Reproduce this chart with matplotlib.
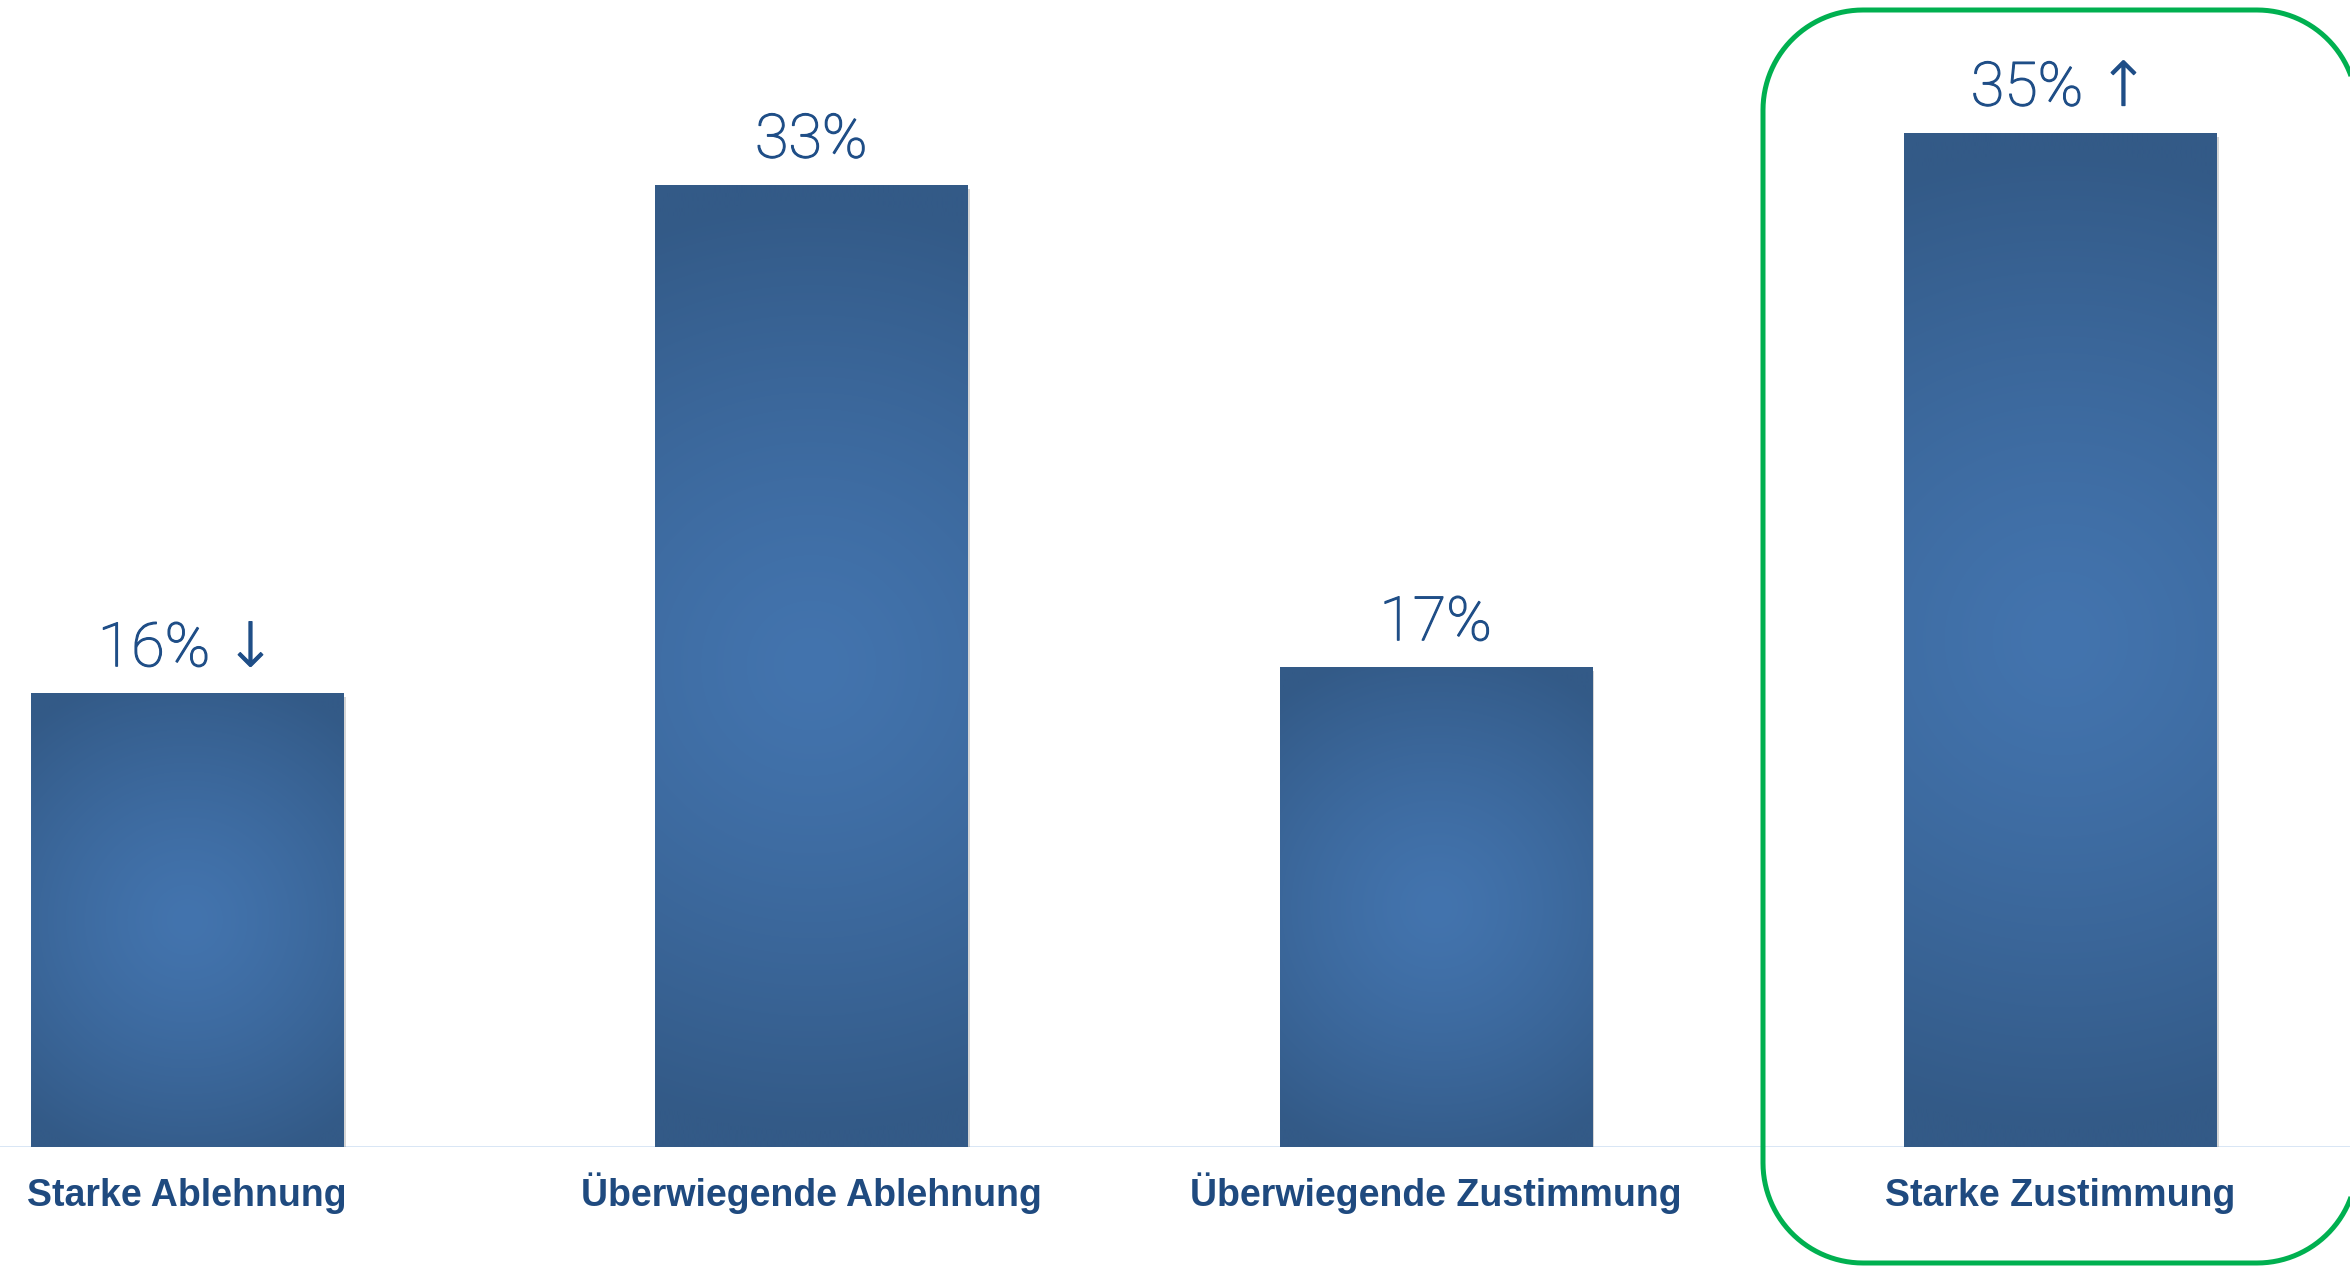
import numpy as np
import matplotlib
matplotlib.use("Agg")
import matplotlib.pyplot as plt
from matplotlib.patches import Polygon
from matplotlib import patheffects as pe
from matplotlib.colors import to_rgb

# data
categories = ["Starke Ablehnung", "Überwiegende Ablehnung",
              "Überwiegende Zustimmung", "Starke Zustimmung"]
values = [15.7, 33.3, 16.6, 35.1]
trend = ["↓", "", "", "↑"]

label_color = "#1f4e87"
cat_color = "#1f4a7f"
c_center = np.array(to_rgb("#4374ae"))
c_edge = np.array(to_rgb("#335a87"))

fig = plt.figure(figsize=(23.5, 12.66), dpi=100)
ax = fig.add_axes([0, 119 / 1266, 1, 1028 / 1266])
ax.set_xlim(-0.2995, 3.4647)
ax.set_ylim(0, 1028 / 28.9)
ax.axis("off")

x = np.arange(len(categories))
bars = ax.bar(x, values, width=0.5, color="#345b88", zorder=2)
for b in bars:
    b.set_path_effects([pe.SimplePatchShadow(offset=(2, -3), shadow_rgbFace="#888888", alpha=0.35),
                        pe.Normal()])

# circular gradient inside each bar (radius = half diagonal, in pixels)
fig.canvas.draw()
for b in bars:
    x0, w, h = b.get_x(), b.get_width(), b.get_height()
    (px0, py0), (px1, py1) = ax.transData.transform([(x0, 0), (x0 + w, h)])
    wp, hp = abs(px1 - px0), abs(py1 - py0)
    ny, nx = int(hp), int(wp)
    gy, gx = np.mgrid[-hp / 2:hp / 2:ny * 1j, -wp / 2:wp / 2:nx * 1j]
    r = np.sqrt(gx ** 2 + gy ** 2) / np.hypot(wp / 2, hp / 2)
    t = np.clip(r / 0.92, 0, 1) ** 1.3
    img = c_center[None, None, :] * (1 - t[..., None]) + c_edge[None, None, :] * t[..., None]
    im = ax.imshow(img, extent=(x0, x0 + w, 0, h), aspect="auto", zorder=3,
                   interpolation="bilinear")
    im.set_clip_path(b)

ax.axhline(0, color="#cddff3", lw=1.8, zorder=1)

for xi, v, tr in zip(x, values, trend):
    s = f"{round(v):.0f}%" + (f" {tr}" if tr else "")
    ax.annotate(s, (xi, v), xytext=(0, 19.5), textcoords="offset points",
                ha="center", va="baseline", fontsize=44, color=label_color,
                family=["Roboto", "DejaVu Sans"], fontweight="light",
                path_effects=[pe.withStroke(linewidth=0.9, foreground=label_color)])

for xi, c in zip(x, categories):
    ax.annotate(c, (xi, 0), xytext=(0, -42.5), textcoords="offset points",
                ha="center", va="baseline", fontsize=27, color=cat_color,
                family=["Liberation Sans", "DejaVu Sans"], fontweight="bold")

# green highlight frame around the last bar (inches)
bx0, bx1, by0, by1, rad = 17.63, 23.57, 0.03, 12.56, 1.0
ang = np.linspace(0, np.pi / 2, 30)
pts = []
for cx, cy, a0 in [(bx1 - rad, by1 - rad, 0), (bx0 + rad, by1 - rad, np.pi / 2),
                   (bx0 + rad, by0 + rad, np.pi), (bx1 - rad, by0 + rad, 1.5 * np.pi)]:
    pts += list(zip(cx + rad * np.cos(a0 + ang), cy + rad * np.sin(a0 + ang)))
frame = Polygon(pts, closed=True, fill=False, edgecolor="#00b050", lw=3.6,
                transform=fig.dpi_scale_trans, zorder=5)
fig.patches.append(frame)

fig.savefig("out.png", dpi=100, facecolor="white")
